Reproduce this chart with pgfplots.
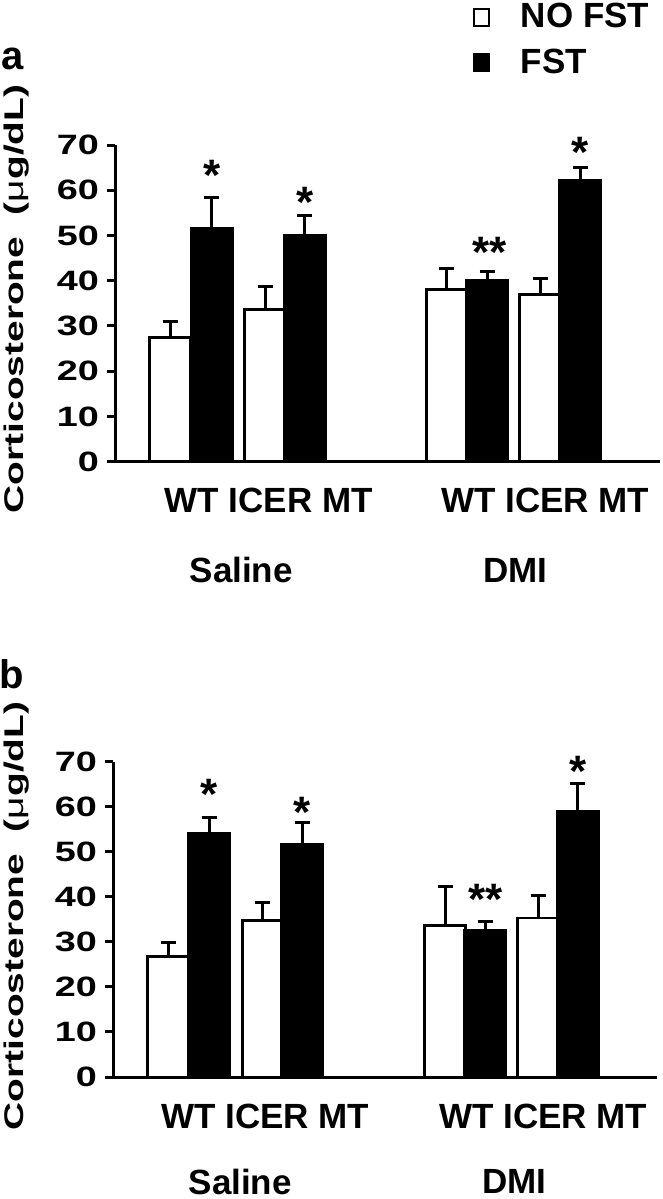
\documentclass[border=0pt]{standalone}
\usepackage{pgfplots}
\pgfplotsset{compat=1.18}
\usepackage{fontspec}
\setmainfont{Liberation Sans}
\usepackage{graphicx}
\newcommand{\tl}[1]{\scalebox{1.35}[1]{#1}}
\newcommand{\catfont}{\bfseries\fontsize{17.5}{18}\selectfont}
\newcommand{\astfont}{\bfseries\fontsize{22}{22}\selectfont}

\pgfplotsset{
 panel/.style={
  scale only axis,
  axis x line*=bottom, axis y line*=left,
  axis line style={line width=1.5pt, black},
  xmin=0, ymin=0, ymax=70,
  xtick=\empty,
  ytick={0,10,20,30,40,50,60,70},
  yticklabels={\tl{0},\tl{10},\tl{20},\tl{30},\tl{40},\tl{50},\tl{60},\tl{70}},
  tick align=outside,
  major tick length=4pt,
  major tick style={line width=1.5pt, black},
  yticklabel style={font=\bfseries\fontsize{14}{14}\selectfont, inner sep=0pt, xshift=-4pt},
  ylabel={\scalebox{1.44}[1]{Corticosterone\ \ ({\mdseries μ}g/dL)}},
  ylabel style={font=\bfseries\fontsize{13.5}{14}\selectfont, anchor=base, inner sep=0pt},
  clip=false,
 },
 nofst/.style={ybar, bar width=41, bar shift=0pt, fill=white, draw=black, line width=1.3pt,
   /pgfplots/error bars/y dir=plus, /pgfplots/error bars/y explicit,
   /pgfplots/error bars/error bar style={line width=1.5pt, black},
   /pgfplots/error bars/error mark options={line width=1.5pt, mark size=3.75pt, black, rotate=90}},
 fst/.style={nofst, fill=black},
}

\begin{document}
\begin{tikzpicture}
\path (0,0) rectangle (330pt,-599.5pt);

% ---------------- panel a ----------------
\begin{axis}[panel,
  at={(56.5pt,-230.85pt)}, anchor=south west,
  width=272.5pt, height=158.35pt, xmax=545,
  ylabel style={at={(axis description cs:-0.1688,0.514)}},
  legend style={at={(axis description cs:0.655,1.448)}, anchor=north west,
    draw=none, fill=none, inner sep=0pt, row sep=9pt, column sep=15.5pt,
    font=\bfseries\fontsize{17.5}{18}\selectfont, nodes={inner sep=0pt}},
  legend cell align=left,
  legend image code/.code={\draw[#1, line width=1.2pt] (0pt,-4.25pt) rectangle (7.5pt,4.25pt);},
]
\addplot[nofst] coordinates {(55,27.5) +- (0,3.4) (150,33.7) +- (0,5.0) (331.5,38.0) +- (0,4.7) (425,37.0) +- (0,3.4)};
\addplot[fst] coordinates {(96.5,51.6) +- (0,6.8) (189.5,50.1) +- (0,4.4) (372,40.2) +- (0,1.8) (465,62.3) +- (0,2.7)};
\legend{NO FST, FST}
\node[anchor=north, inner sep=0pt, font=\astfont] at (axis cs:96.5,66.7) {*};
\node[anchor=north, inner sep=0pt, font=\astfont] at (axis cs:189.5,60.8) {*};
\node[anchor=north, inner sep=0pt, font=\astfont] at (axis cs:374,49.7) {**};
\node[anchor=north, inner sep=0pt, font=\astfont] at (axis cs:465,71.7) {*};
\node[font=\catfont, inner sep=0pt] at (axis cs:153.5,-8.62) {WT ICER MT};
\node[font=\catfont, inner sep=0pt] at (axis cs:430,-8.62) {WT ICER MT};
\node[font=\catfont, inner sep=0pt] at (axis cs:126,-23.94) {Saline};
\node[font=\catfont, inner sep=0pt] at (axis cs:400,-23.94) {DMI};
\node[font=\bfseries\fontsize{20}{20}\selectfont, inner sep=0pt] at (axis cs:-103,89.0) {a};
\end{axis}

% ---------------- panel b ----------------
\begin{axis}[panel,
  at={(55.5pt,-538.5pt)}, anchor=south west,
  width=272pt, height=157.65pt, xmax=544,
  ylabel style={at={(axis description cs:-0.1654,0.511)}},
]
\addplot[nofst] coordinates {(55,26.7) +- (0,3.2) (149.5,34.7) +- (0,4.0) (332,33.7) +- (0,8.7) (425,35.3) +- (0,4.9)};
\addplot[fst] coordinates {(96,54.0) +- (0,3.7) (189,51.7) +- (0,4.9) (372,32.6) +- (0,2.0) (464.5,59.0) +- (0,6.1)};
\node[anchor=north, inner sep=0pt, font=\astfont] at (axis cs:96,66.2) {*};
\node[anchor=north, inner sep=0pt, font=\astfont] at (axis cs:189,62.3) {*};
\node[anchor=north, inner sep=0pt, font=\astfont] at (axis cs:372,42.8) {**};
\node[anchor=north, inner sep=0pt, font=\astfont] at (axis cs:465,71.4) {*};
\node[font=\catfont, inner sep=0pt] at (axis cs:152,-8.81) {WT ICER MT};
\node[font=\catfont, inner sep=0pt] at (axis cs:430,-8.81) {WT ICER MT};
\node[font=\catfont, inner sep=0pt] at (axis cs:127,-23.2) {Saline};
\node[font=\catfont, inner sep=0pt] at (axis cs:401,-23.2) {DMI};
\node[font=\bfseries\fontsize{20}{20}\selectfont, inner sep=0pt] at (axis cs:-101,89.5) {b};
\end{axis}
\end{tikzpicture}
\end{document}
